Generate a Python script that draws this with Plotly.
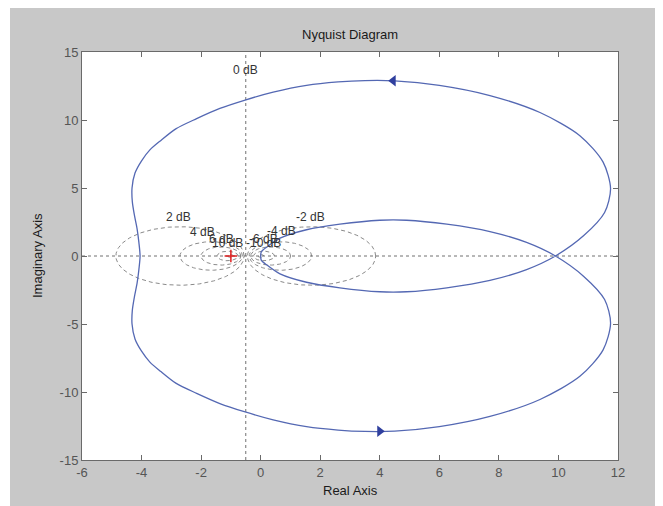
import numpy as np
import plotly.graph_objects as go

# ---- data ----
# Nyquist curve, positive-frequency half (w: 0 -> inf)
re_pos = [-4.05, -4.09, -4.15, -4.24, -4.31, -4.32, -4.22, -4.00, -3.72, -3.35, -2.85, -2.15,
          -1.37, -0.55, 0.42, 1.54, 2.60, 3.50, 4.50, 6.00, 7.70, 9.38, 10.72, 11.50, 11.75,
          11.55, 10.85, 9.90, 8.93, 7.70, 6.25, 4.90, 4.00, 2.66, 1.54, 0.65, 0.20, 0.02, 0.0]
im_pos = [0.0, -1.0, -2.0, -3.0, -4.0, -5.0, -6.1, -7.0, -7.8, -8.5, -9.35, -10.1,
          -10.85, -11.45, -12.05, -12.55, -12.8, -12.9, -12.88, -12.55, -11.8, -10.55, -8.85, -6.9, -4.95,
          -3.2, -1.5, 0.0, 1.0, 1.8, 2.34, 2.63, 2.63, 2.34, 1.93, 1.31, 0.65, 0.3, 0.0]

# direction arrows
arrow_x = [4.45, 4.0]
arrow_y = [12.88, -12.88]
arrow_symbols = ["triangle-left", "triangle-right"]

# M-circle grid levels (dB) and labels
db_levels = [-20, -10, -6, -4, -2, 2, 4, 6, 10, 20]
db_label_text = ["0 dB", "2 dB", "-2 dB", "4 dB", "-4 dB", "6 dB", "-6 dB", "10 dB", "-10 dB"]
db_label_x = [-0.5, -2.77, 1.66, -1.94, 0.70, -1.31, 0.08, -1.11, 0.11]
db_label_y = [13.7, 2.85, 2.85, 1.75, 1.87, 1.26, 1.28, 0.95, 0.95]

x_ticks = [-6, -4, -2, 0, 2, 4, 6, 8, 10, 12]
x_tick_labels = ["-6", "-4", "-2", "0", "2", "4", "6", "8", "10", "12"]
y_ticks = [-15, -10, -5, 0, 5, 10, 15]
y_tick_labels = ["-15", "-10", "-5", "0", "5", "10", "15"]

# ---- figure ----
fig = go.Figure()

grid_col = "#8a8a8a"
th = np.linspace(0, 2 * np.pi, 241)
for db in db_levels:
    M = 10 ** (db / 20.0)
    c = -M**2 / (M**2 - 1)
    r = abs(M / (M**2 - 1))
    fig.add_trace(go.Scatter(x=c + r * np.cos(th), y=r * np.sin(th), mode="lines",
                             line=dict(color=grid_col, width=1, dash="4px,3px"),
                             hoverinfo="skip", showlegend=False))

# 0 dB line and real axis
fig.add_trace(go.Scatter(x=[-0.5, -0.5], y=[-15, 15], mode="lines",
                         line=dict(color="#707070", width=1, dash="3px,3px"),
                         hoverinfo="skip", showlegend=False))
fig.add_trace(go.Scatter(x=[-6, 12], y=[0, 0], mode="lines",
                         line=dict(color="#707070", width=1, dash="3px,3px"),
                         hoverinfo="skip", showlegend=False))

# Nyquist curve: negative frequencies are the mirror image
x_full = re_pos[::-1] + re_pos[1:]
y_full = [-v for v in im_pos[::-1]] + im_pos[1:]
fig.add_trace(go.Scatter(x=x_full, y=y_full, mode="lines",
                         line=dict(color="#5468b3", width=1.3, shape="spline", smoothing=0.8),
                         showlegend=False))

fig.add_trace(go.Scatter(x=arrow_x, y=arrow_y, mode="markers",
                         marker=dict(symbol=arrow_symbols, size=10, color="#2f3f9e",
                                     line=dict(width=0)),
                         showlegend=False))

# critical point
fig.add_trace(go.Scatter(x=[-1], y=[0], mode="markers",
                         marker=dict(symbol="cross-thin", size=9,
                                     line=dict(color="#e02020", width=1.5)),
                         showlegend=False))

for t, x, y in zip(db_label_text, db_label_x, db_label_y):
    fig.add_annotation(x=x, y=y, text=t, showarrow=False, xref="x", yref="y",
                       font=dict(family="Liberation Sans, Arial, sans-serif", size=12, color="#333333"))

# page body adds an 8px offset; the figure fills the rest of the 663x506 window
OFF = 8
W, H = 663 - OFF, 506 - OFF
# plot area in window pixels: x 82..618, y 52..460
L, T = 82 - OFF, 52 - OFF
R, B = W - (618 - OFF), H - (460 - OFF)
pw, ph = W - L - R, H - T - B

def px(xw):
    return (xw - OFF - L) / pw

def py(yw):
    return (H - B - (yw - OFF)) / ph

font_main = dict(family="Liberation Sans, Arial, sans-serif", size=13, color="#1a1a1a")
fig.add_annotation(x=0.5, y=py(35), xref="paper", yref="paper", text="Nyquist Diagram",
                   showarrow=False, font=font_main, yanchor="middle")
fig.add_annotation(x=0.5, y=py(490), xref="paper", yref="paper", text="Real Axis",
                   showarrow=False, font=font_main, yanchor="middle")
fig.add_annotation(x=px(37), y=0.5, xref="paper", yref="paper", text="Imaginary Axis",
                   showarrow=False, font=font_main, textangle=-90, xanchor="center")

# white outer margin on the left (window x 8..10)
fig.add_shape(type="rect", xref="paper", yref="paper", x0=px(OFF), x1=px(10), y0=py(506), y1=py(OFF),
              fillcolor="white", line=dict(width=0), layer="below")

axis_common = dict(showgrid=False, zeroline=False, showline=True, linecolor="#6a6a6a", linewidth=1,
                   mirror="ticks", ticks="inside", ticklen=5, tickcolor="#6a6a6a",
                   tickfont=dict(family="Liberation Sans, Arial, sans-serif", size=13, color="#555555"))
fig.update_xaxes(range=[-6, 12], tickvals=x_ticks, ticktext=x_tick_labels, **axis_common)
fig.update_yaxes(range=[-15, 15], tickvals=y_ticks, ticktext=y_tick_labels, **axis_common)

fig.update_layout(width=W, height=H, autosize=False,
                  margin=dict(l=L, r=R, t=T, b=B, pad=0),
                  paper_bgcolor="#c8c8c8", plot_bgcolor="white",
                  showlegend=False)

fig.write_html("out.html")
